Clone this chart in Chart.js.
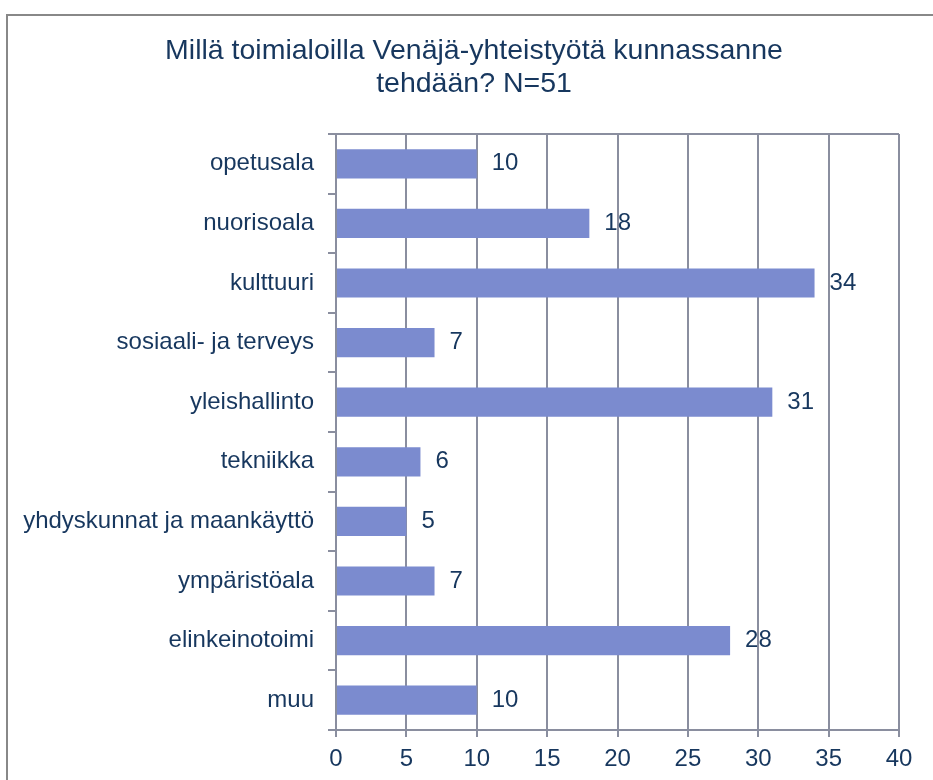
<!DOCTYPE html>
<html>
<head>
<meta charset="utf-8">
<script src="https://cdn.jsdelivr.net/npm/chart.js@4/dist/chart.umd.min.js"></script>
<style>
    html, body { margin: 0; padding: 0; background: #fff; }
    #wrap { width: 933px; height: 780px; }
</style>
</head>
<body>
<div id="wrap"><canvas id="chart" width="933" height="780"></canvas></div>
<script>
const TITLE_LINES = ['Millä toimialoilla Venäjä-yhteistyötä kunnassanne', 'tehdään? N=51'];
const CATEGORIES = [
    'opetusala',
    'nuorisoala',
    'kulttuuri',
    'sosiaali- ja terveys',
    'yleishallinto',
    'tekniikka',
    'yhdyskunnat ja maankäyttö',
    'ympäristöala',
    'elinkeinotoimi',
    'muu',
];
const VALUES = [10, 18, 34, 7, 31, 6, 5, 7, 28, 10];
const X_MIN = 0;
const X_MAX = 40;
const X_STEP = 5;

const TEXT_COLOR = '#17375E';
const BAR_COLOR = '#7B8BCF';
const GRID_COLOR = '#8A8E9F';
const FONT = '"Liberation Sans", Arial, sans-serif';

// Outer frame of the chart object (only top/left visible in the crop)
const frame = {
    id: 'frame',
    beforeDraw(chart) {
        const ctx = chart.ctx;
        ctx.save();
        ctx.fillStyle = '#fff';
        ctx.fillRect(0, 0, chart.width, chart.height);
        ctx.strokeStyle = '#888888';
        ctx.lineWidth = 2;
        ctx.strokeRect(7, 15, chart.width + 20, chart.height + 20);
        ctx.restore();
    },
    afterDatasetsDraw(chart) {
        // top edge of plot area
        const a = chart.chartArea;
        const ctx = chart.ctx;
        ctx.save();
        ctx.strokeStyle = GRID_COLOR;
        ctx.lineWidth = 2;
        ctx.beginPath();
        ctx.moveTo(a.left, a.top);
        ctx.lineTo(a.right, a.top);
        ctx.stroke();
        ctx.restore();
    }
};

// Value labels to the right of the bars
const valueLabels = {
    id: 'valueLabels',
    afterDatasetsDraw(chart) {
        const ctx = chart.ctx;
        const meta = chart.getDatasetMeta(0);
        ctx.save();
        ctx.fillStyle = TEXT_COLOR;
        ctx.font = '24px ' + FONT;
        ctx.textAlign = 'left';
        ctx.textBaseline = 'middle';
        meta.data.forEach((bar, i) => {
            ctx.fillText(String(VALUES[i]), bar.x + 15, bar.y);
        });
        ctx.restore();
    }
};

new Chart(document.getElementById('chart').getContext('2d'), {
    type: 'bar',
    data: {
        labels: CATEGORIES,
        datasets: [{
            data: VALUES,
            backgroundColor: BAR_COLOR,
            borderWidth: 0,
            barPercentage: 0.49,
            categoryPercentage: 1,
        }],
    },
    plugins: [frame, valueLabels],
    options: {
        indexAxis: 'y',
        responsive: false,
        animation: false,
        layout: { padding: { left: 15, right: 0, top: 0, bottom: 0 } },
        plugins: {
            legend: { display: false },
            tooltip: { enabled: false },
            title: {
                display: true,
                text: TITLE_LINES,
                color: TEXT_COLOR,
                font: { family: FONT, size: 28.5, weight: 'normal', lineHeight: 33 / 28.5 },
                padding: { top: 35, bottom: 33 },
            },
        },
        scales: {
            x: {
                type: 'linear',
                min: X_MIN,
                max: X_MAX,
                ticks: {
                    stepSize: X_STEP,
                    color: TEXT_COLOR,
                    font: { family: FONT, size: 24 },
                    padding: 8,
                },
                grid: {
                    color: GRID_COLOR,
                    lineWidth: 2,
                    drawTicks: true,
                    tickLength: 7,
                },
                border: { display: true, color: GRID_COLOR, width: 2 },
                afterFit(scale) { scale.height = 50; },
            },
            y: {
                ticks: {
                    color: TEXT_COLOR,
                    font: { family: FONT, size: 24 },
                    padding: 14,
                },
                grid: {
                    color: GRID_COLOR,
                    lineWidth: 2,
                    drawOnChartArea: false,
                    drawTicks: true,
                    tickLength: 8,
                    offset: true,
                },
                border: { display: true, color: GRID_COLOR, width: 2 },
                afterFit(scale) { scale.width = 321; },
            },
            // empty spacer on the right so the plot ends at 40 like the original
            spacer: {
                type: 'category',
                position: 'right',
                ticks: { display: false },
                grid: { display: false },
                border: { display: false },
                afterFit(scale) { scale.width = 34; },
            },
        },
    },
});
</script>
</body>
</html>
